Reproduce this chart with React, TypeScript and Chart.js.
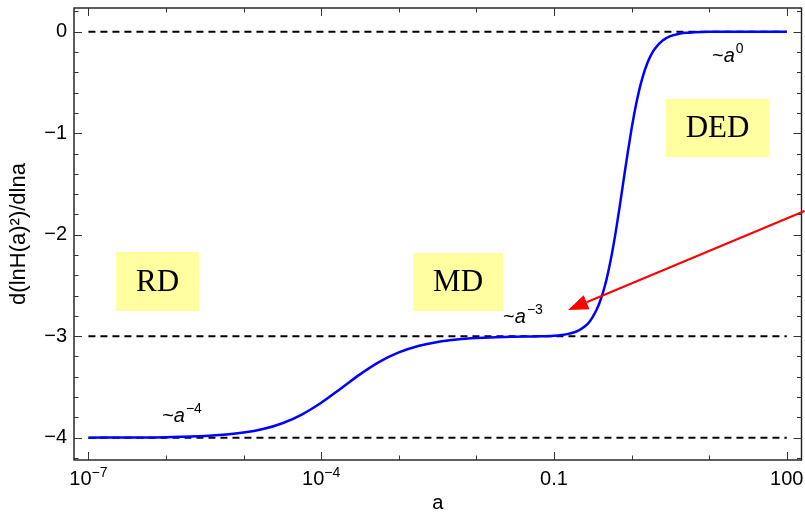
import React, { useEffect, useRef } from 'react';
import { Chart, registerables } from 'chart.js';

Chart.register(...registerables);

// ---- data ----
const aValues = [
  1e-7, 3.16e-7, 1e-6, 3.16e-6, 1e-5, 1.78e-5, 3.16e-5, 5.62e-5, 1e-4, 1.78e-4,
  3.16e-4, 5.62e-4, 1e-3, 1.78e-3, 3.16e-3, 5.62e-3, 1e-2, 1.78e-2, 3.16e-2, 5.62e-2,
  0.1, 0.126, 0.158, 0.2, 0.251, 0.282, 0.316, 0.355, 0.398, 0.447,
  0.501, 0.562, 0.631, 0.708, 0.794, 0.891, 1.0, 1.122, 1.259, 1.413,
  1.585, 1.778, 1.995, 2.512, 3.162, 3.981, 5.012, 6.31, 10, 31.6, 100,
];
const slopeValues = [
  -4.0, -3.998, -3.995, -3.984, -3.95, -3.915, -3.858, -3.772, -3.656, -3.517,
  -3.376, -3.253, -3.16, -3.097, -3.057, -3.033, -3.019, -3.011, -3.006, -3.002,
  -2.996, -2.989, -2.975, -2.95, -2.902, -2.865, -2.81, -2.738, -2.643, -2.52,
  -2.364, -2.174, -1.952, -1.706, -1.448, -1.193, -0.956, -0.746, -0.57, -0.427,
  -0.315, -0.23, -0.167, -0.086, -0.044, -0.022, -0.011, -0.006, -0.001, 0, 0,
];
const refLevels = [0, -3, -4];
const refStart = 1e-7;
const refEnd = 100;

const xMajorTicks = [1e-7, 1e-4, 0.1, 100];
const xMajorBase = ['10', '10', '0.1', '100'];
const xMajorExp = ['\u22127', '\u22124', '', ''];
const xMinorTicks = [1e-6, 1e-5, 1e-3, 1e-2, 1, 10];
const yMajorTicks = [0, -1, -2, -3, -4];
const yMinorTicks = [0.2, -0.2, -0.4, -0.6, -0.8, -1.2, -1.4, -1.6, -1.8, -2.2, -2.4, -2.6, -2.8, -3.2, -3.4, -3.6, -3.8, -4.2];

const xTitle = 'a';
const yTitle = 'd(lnH(a)\u00B2)/dlna';

// era label boxes (data coordinates)
const eraLabels = ['RD', 'MD', 'DED'];
const eraX0 = [10 ** -6.643, 10 ** -2.816, 10 ** 0.444];
const eraX1 = [10 ** -5.573, 10 ** -1.656, 10 ** 1.771];
const eraY0 = [-2.17, -2.18, -0.663];
const eraY1 = [-2.752, -2.752, -1.234];

// power-law annotations (data coordinates of text start / baseline)
const powerExps = ['\u22124', '\u22123', '0'];
const powerX = [10 ** -6.05, 10 ** -1.656, 10 ** 1.036];
const powerY = [-3.845, -2.87, -0.298];

// red arrow (data coordinates)
const arrowFrom = { x: 10 ** 2.23, y: -1.766 };
const arrowTo = { x: 10 ** -0.818, y: -2.742 };

const SANS = '"Liberation Sans", Arial, sans-serif';
const SERIF = '"Liberation Serif", "Times New Roman", serif';

const decorPlugin = {
  id: 'decor',
  beforeDatasetsDraw(chart: any) {
    const { ctx } = chart;
    const xs = chart.scales.x;
    const ys = chart.scales.y;
    ctx.save();
    for (let i = 0; i < eraLabels.length; i++) {
      const x0 = xs.getPixelForValue(eraX0[i]);
      const x1 = xs.getPixelForValue(eraX1[i]);
      const y0 = ys.getPixelForValue(eraY0[i]);
      const y1 = ys.getPixelForValue(eraY1[i]);
      ctx.fillStyle = '#ffffa0';
      ctx.fillRect(x0, y0, x1 - x0, y1 - y0);
      ctx.fillStyle = '#000';
      ctx.font = `31px ${SERIF}`;
      ctx.textAlign = 'center';
      ctx.textBaseline = 'middle';
      ctx.fillText(eraLabels[i], (x0 + x1) / 2, (y0 + y1) / 2 + 1);
    }
    ctx.restore();
  },
  afterDatasetsDraw(chart: any) {
    const { ctx, chartArea: ca } = chart;
    const xs = chart.scales.x;
    const ys = chart.scales.y;
    ctx.save();
    // frame
    ctx.strokeStyle = '#1a1a1a';
    ctx.lineWidth = 1.4;
    ctx.strokeRect(ca.left, ca.top, ca.right - ca.left, ca.bottom - ca.top);
    ctx.lineWidth = 1;
    ctx.strokeStyle = '#333';
    const major = 8;
    const minor = 4.5;
    const vTick = (px: number, len: number) => {
      ctx.beginPath();
      ctx.moveTo(px, ca.bottom);
      ctx.lineTo(px, ca.bottom - len);
      ctx.moveTo(px, ca.top);
      ctx.lineTo(px, ca.top + len);
      ctx.stroke();
    };
    const hTick = (py: number, len: number) => {
      ctx.beginPath();
      ctx.moveTo(ca.left, py);
      ctx.lineTo(ca.left + len, py);
      ctx.moveTo(ca.right, py);
      ctx.lineTo(ca.right - len, py);
      ctx.stroke();
    };
    xMajorTicks.forEach((v) => vTick(Math.round(xs.getPixelForValue(v)) + 0.5, major));
    xMinorTicks.forEach((v) => vTick(Math.round(xs.getPixelForValue(v)) + 0.5, minor));
    yMajorTicks.forEach((v) => hTick(Math.round(ys.getPixelForValue(v)) + 0.5, major));
    yMinorTicks.forEach((v) => hTick(Math.round(ys.getPixelForValue(v)) + 0.5, minor));

    // x tick labels with superscripts
    ctx.fillStyle = '#000';
    ctx.textBaseline = 'alphabetic';
    ctx.textAlign = 'left';
    const baseY = ca.bottom + 25;
    xMajorTicks.forEach((v, i) => {
      const px = xs.getPixelForValue(v);
      ctx.font = `20px ${SANS}`;
      const wb = ctx.measureText(xMajorBase[i]).width;
      ctx.font = `14px ${SANS}`;
      const we = xMajorExp[i] ? ctx.measureText(xMajorExp[i]).width : 0;
      const start = px - (wb + we) / 2;
      ctx.font = `20px ${SANS}`;
      ctx.fillText(xMajorBase[i], start, baseY);
      if (xMajorExp[i]) {
        ctx.font = `14px ${SANS}`;
        ctx.fillText(xMajorExp[i], start + wb, baseY - 8);
      }
    });

    // power-law annotations
    for (let i = 0; i < powerExps.length; i++) {
      let x = xs.getPixelForValue(powerX[i]);
      const y = ys.getPixelForValue(powerY[i]);
      ctx.font = `20px ${SANS}`;
      ctx.fillText('~', x, y);
      x += ctx.measureText('~').width;
      ctx.font = `italic 20px ${SANS}`;
      ctx.fillText('a', x, y);
      x += ctx.measureText('a').width + 1;
      ctx.font = `14px ${SANS}`;
      ctx.fillText(powerExps[i], x, y - 9);
    }

    // red arrow
    const sx = xs.getPixelForValue(arrowFrom.x);
    const sy = ys.getPixelForValue(arrowFrom.y);
    const tx = xs.getPixelForValue(arrowTo.x);
    const ty = ys.getPixelForValue(arrowTo.y);
    const ang = Math.atan2(ty - sy, tx - sx);
    const headLen = 20;
    const headHalf = 7.5;
    const bx = tx - headLen * Math.cos(ang);
    const by = ty - headLen * Math.sin(ang);
    ctx.strokeStyle = '#ff0000';
    ctx.fillStyle = '#ff0000';
    ctx.lineWidth = 2;
    ctx.beginPath();
    ctx.moveTo(sx, sy);
    ctx.lineTo(bx, by);
    ctx.stroke();
    ctx.beginPath();
    ctx.moveTo(tx, ty);
    ctx.lineTo(bx + headHalf * Math.sin(ang), by - headHalf * Math.cos(ang));
    ctx.lineTo(bx - headHalf * Math.sin(ang), by + headHalf * Math.cos(ang));
    ctx.closePath();
    ctx.fill();
    ctx.restore();
  },
};

export default function App() {
  const canvasRef = useRef<HTMLCanvasElement | null>(null);

  useEffect(() => {
    const canvas = canvasRef.current;
    if (!canvas) return;
    const curve = aValues.map((a, i) => ({ x: a, y: slopeValues[i] }));
    const refSets = refLevels.map((lvl) => ({
      label: `ref ${lvl}`,
      data: [
        { x: refStart, y: lvl },
        { x: refEnd, y: lvl },
      ],
      borderColor: '#000',
      borderWidth: 2,
      borderDash: [7, 5],
      pointRadius: 0,
      fill: false,
    }));
    const chart = new Chart(canvas, {
      type: 'line',
      data: {
        datasets: [
          {
            label: 'dlnH2/dlna',
            data: curve,
            borderColor: '#0000ff',
            borderWidth: 2.5,
            pointRadius: 0,
            fill: false,
            cubicInterpolationMode: 'monotone',
          },
          ...refSets,
        ],
      },
      options: {
        animation: false,
        responsive: false,
        maintainAspectRatio: false,
        layout: { padding: { left: 0, top: 8, right: 3.5, bottom: 0 } },
        plugins: { legend: { display: false }, tooltip: { enabled: false } },
        scales: {
          x: {
            type: 'logarithmic',
            min: 10 ** -7.186,
            max: 10 ** 2.19,
            ticks: { display: false },
            grid: { display: false, drawTicks: false },
            border: { display: false },
            afterFit: (s: any) => {
              s.height = 58;
              s.paddingLeft = 0;
              s.paddingRight = 0;
            },
            title: {
              display: true,
              text: xTitle,
              color: '#000',
              font: { family: SANS, size: 20 },
              padding: { top: 0, bottom: 3 },
            },
          },
          y: {
            type: 'linear',
            min: -4.22,
            max: 0.234,
            afterBuildTicks: (s: any) => {
              s.ticks = yMajorTicks.map((v) => ({ value: v }));
            },
            ticks: {
              color: '#000',
              padding: 7,
              font: { family: SANS, size: 20 },
              callback: (v: any) => String(v).replace('-', '\u2212'),
            },
            grid: { display: false, drawTicks: false },
            border: { display: false },
            afterFit: (s: any) => {
              s.width = 74;
              s.paddingTop = 0;
              s.paddingBottom = 0;
            },
            title: {
              display: true,
              text: yTitle,
              color: '#000',
              font: { family: SANS, size: 22 },
              padding: { top: 6, bottom: 0 },
            },
          },
        },
      },
      plugins: [decorPlugin],
    } as any);
    return () => chart.destroy();
  }, []);

  return (
    <div style={{ position: 'fixed', left: 0, top: 0, width: 805, height: 518, background: '#fff' }}>
      <canvas ref={canvasRef} width={805} height={518} style={{ display: 'block' }} />
    </div>
  );
}
